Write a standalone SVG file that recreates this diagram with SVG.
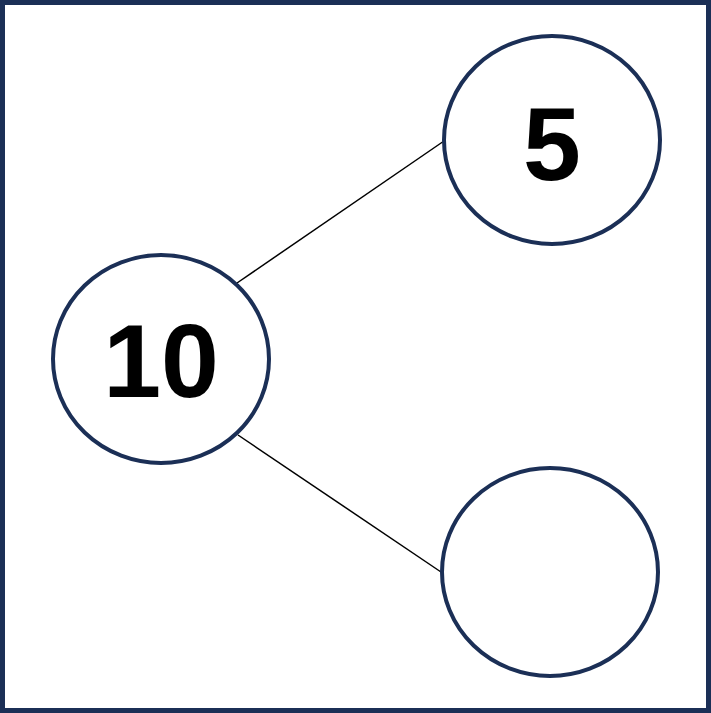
<svg xmlns="http://www.w3.org/2000/svg" width="711" height="713" viewBox="0 0 711 713">
<style>
.n{fill:#fff;stroke:#1b2f56;stroke-width:4}
.t{font-family:"Liberation Sans",Arial,sans-serif;font-weight:bold;font-size:104px;fill:#000;text-anchor:middle}
.c{stroke:#000;stroke-width:1.5}
</style>
<rect x="2.5" y="2.5" width="706" height="708" fill="#fff" stroke="#1b2f56" stroke-width="5"/>
<g id="connectors">
<line class="c" x1="237" y1="283" x2="444" y2="141"/>
<line class="c" x1="238" y1="435" x2="441" y2="572"/>
</g>
<g id="n10"><ellipse class="n" cx="161" cy="359" rx="108" ry="104"/><text class="t" x="161" y="397">10</text></g>
<g id="n5"><ellipse class="n" cx="552" cy="140" rx="108" ry="104"/><text class="t" x="552" y="180">5</text></g>
<g id="nempty"><ellipse class="n" cx="550" cy="572" rx="108" ry="104"/></g>
</svg>
